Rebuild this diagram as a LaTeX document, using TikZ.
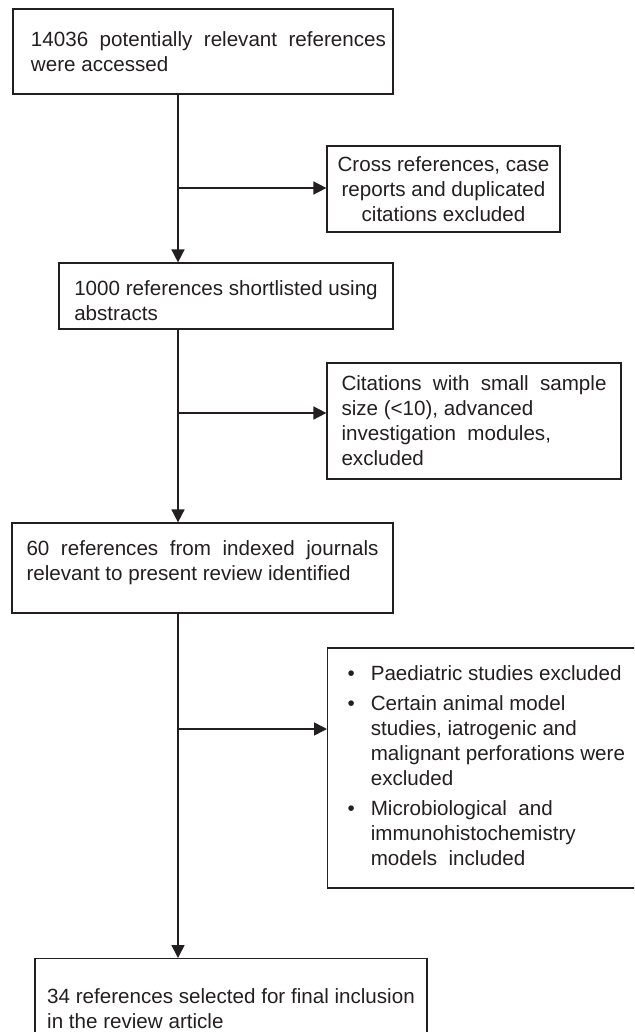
\documentclass[tikz,border=0pt]{standalone}
\usepackage{fontspec}
\setmainfont{Liberation Sans}
\usetikzlibrary{arrows.meta}
\definecolor{ink}{HTML}{231F20}

\begin{document}
\begin{tikzpicture}[x=.5pt,y=-.5pt,
    box/.style={draw=ink,line width=.6pt,inner sep=0pt,text=ink,
      font=\fontsize{10.3}{12.5}\selectfont},
    flow/.style={draw=ink,line width=.8pt,-{Triangle[length=6.5pt,width=6.5pt]}}]
  \useasboundingbox (0,0) rectangle (634,1032);
  \clip (0,0) rectangle (634,1032);
  % main column
  \node[box,minimum width=190pt,minimum height=42.5pt,align=left]
    (access) at (203,51.5)
    {\hspace*{5.5pt}\parbox{177.5pt}{14036 potentially relevant references\linebreak were accessed}};
  \node[box,minimum width=167pt,minimum height=33pt,align=left]
    (shortlist) at (226,296)
    {\rule{0pt}{11.6pt}1000 references shortlisted using\\abstracts};
  \node[box,minimum width=190.5pt,minimum height=45pt,text width=176pt,align=justify]
    (indexed) at (202.5,568)
    {\parfillskip=0pt\relax 60 references from indexed journals\linebreak
     relevant to present review identified\rule[-7.9pt]{0pt}{7.9pt}};
  \node[box,minimum width=196pt,inner ysep=15pt,align=left,anchor=north]
    (final) at (231,958)
    {34 references selected for final inclusion\\in the review article};
  % exclusions
  \node[box,minimum width=116.5pt,minimum height=43pt,align=center]
    (cross) at (443.5,189)
    {Cross references, case\\reports and duplicated\\citations excluded};
  \node[box,minimum width=147pt,minimum height=58pt,text width=132.5pt,align=justify]
    (citations) at (474,421)
    {Citations with small sample\linebreak size (<10), advanced\\
     investigation\ \ modules,\\excluded};
  \node[box,minimum height=120pt,inner xsep=10pt,anchor=west]
    (criteria) at (327,768)
    {\begin{tabular}{@{}l@{\hspace{8pt}}l@{}}
       \textbullet & Paediatric studies excluded\\[2.5pt]
       \textbullet & Certain animal model\\
                   & studies, iatrogenic and\\
                   & malignant perforations were\\
                   & excluded\\[2.5pt]
       \textbullet & Microbiological\ \ and\\
                   & immunohistochemistry\\
                   & models\ \ included
     \end{tabular}};
  % spine and branches
  \coordinate (spine) at (178,0);
  \coordinate (j1) at (178,188);
  \coordinate (j2) at (178,413);
  \coordinate (j3) at (178,729);
  \draw[flow] (access.south -| spine) -- (shortlist.north -| spine);
  \draw[flow] (shortlist.south -| spine) -- (indexed.north -| spine);
  \draw[flow] (indexed.south -| spine) -- (final.north -| spine);
  \draw[flow] (j1) -- (j1 -| cross.west);
  \draw[flow] (j2) -- (j2 -| citations.west);
  \draw[flow] (j3) -- (j3 -| criteria.west);
\end{tikzpicture}
\end{document}
